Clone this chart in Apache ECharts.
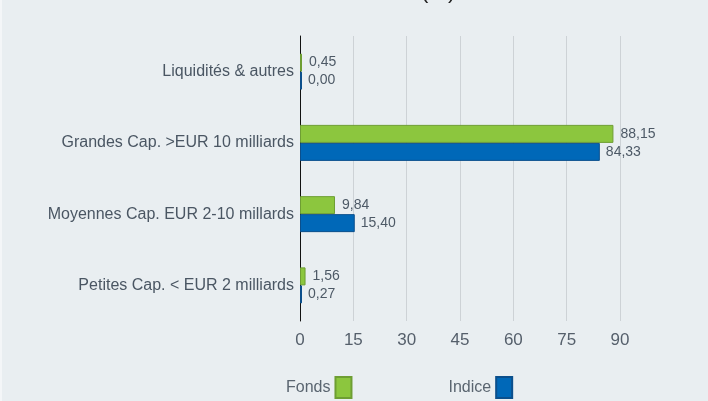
<!DOCTYPE html>
<html>
<head>
<meta charset="utf-8">
<script src="https://cdn.jsdelivr.net/npm/echarts@6/dist/echarts.min.js"></script>
<style>
	html, body { margin: 0; padding: 0; background: #f4f6f8; }
	#main { width: 706px; height: 401px; margin-left: 2px; background: #e9eef1; }
</style>
</head>
<body>
<div id="main"></div>
<script>
// données
var categories = ['Liquidités & autres', 'Grandes Cap. >EUR 10 milliards', 'Moyennes Cap. EUR 2-10 millards', 'Petites Cap. < EUR 2 milliards'];
var fonds = [0.45, 88.15, 9.84, 1.56];
var indice = [0.00, 84.33, 15.40, 0.27];
var xTicks = [0, 15, 30, 45, 60, 75, 90];

function fmt(p) {
	return p.value.toFixed(2).replace('.', ',');
}

var myChart = echarts.init(document.getElementById('main'));
var option = {
	backgroundColor: '#e9eef1',
	animation: false,
	textStyle: { fontFamily: 'Liberation Sans, Arial, sans-serif' },
	title: {
		text: '(%)',
		left: 414,
		top: -24,
		textStyle: { fontSize: 22, fontWeight: 'normal', color: '#222' }
	},
	grid: { left: 298, right: 88, top: 36, bottom: 80 },
	legend: {
		left: 279,
		top: 371,
		icon: 'rect',
		align: 'right',
		itemWidth: 16,
		itemHeight: 21,
		itemGap: 96,
		textStyle: { fontSize: 16, color: '#5a6570' },
		data: ['Fonds', 'Indice']
	},
	xAxis: {
		type: 'value',
		min: xTicks[0],
		max: xTicks[xTicks.length - 1],
		interval: 15,
		axisLine: { show: false },
		axisTick: { show: false },
		axisLabel: { fontSize: 17, color: '#555f6b', margin: 11 },
		splitLine: { lineStyle: { color: '#cdd2d6', width: 1 } }
	},
	yAxis: {
		type: 'category',
		inverse: true,
		data: categories,
		axisLine: { lineStyle: { color: '#111', width: 1 } },
		axisTick: { show: false },
		axisLabel: { fontSize: 16, color: '#4a5663', margin: 6 }
	},
	series: [{
		name: 'Fonds',
		type: 'bar',
		data: fonds,
		barWidth: 18,
		barGap: 0,
		barMinHeight: 2,
		itemStyle: { color: '#8cc63e', borderColor: '#6e9e33', borderWidth: 1 },
		label: { show: true, position: 'right', distance: 7, fontSize: 14, color: '#4d5966', formatter: fmt }
	}, {
		name: 'Indice',
		type: 'bar',
		data: indice,
		barWidth: 18,
		barMinHeight: 2,
		itemStyle: { color: '#0068b8', borderColor: '#0b4f8c', borderWidth: 1 },
		label: { show: true, position: 'right', distance: 6, fontSize: 14, color: '#4d5966', formatter: fmt }
	}]
};
myChart.setOption(option);
</script>
</body>
</html>
